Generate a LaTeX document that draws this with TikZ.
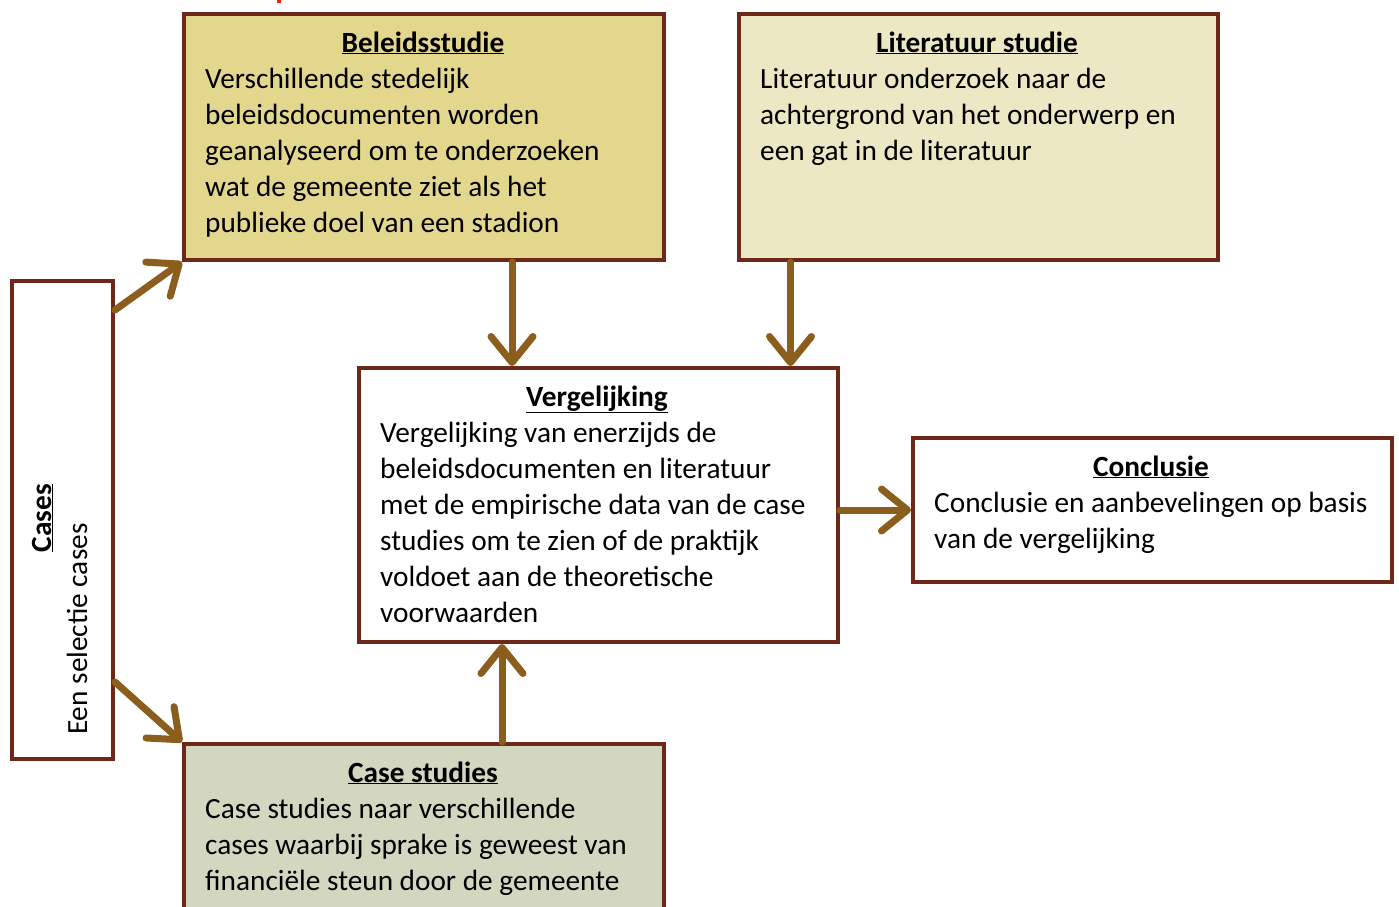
\documentclass[tikz,border=0pt]{standalone}
\usepackage{fontspec}
\setmainfont{Carlito}
\usetikzlibrary{arrows.meta,calc}
\definecolor{bord}{RGB}{110,40,25}
\definecolor{arrc}{RGB}{139,94,30}
\definecolor{fillA}{RGB}{227,215,142}
\definecolor{fillB}{RGB}{237,232,196}
\definecolor{fillC}{RGB}{211,215,192}
\begin{document}
\begin{tikzpicture}[x=1pt,y=-1pt,
  box/.style={draw=bord, line width=4pt, rectangle, inner sep=0pt, anchor=north west},
  arr/.style={draw=arrc, line width=7pt, line cap=round, -{Straight Barb[length=26pt,width=42pt,round]}},
  ttl/.style={font=\fontsize{29.3}{36}\selectfont\bfseries, inner sep=0pt, anchor=base},
  body/.style={font=\fontsize{29.3}{36}\selectfont, inner sep=0pt, anchor=north west, align=left}]
\clip (0,0) rectangle (1399,906);
\fill[white] (0,0) rectangle (1399,906);
\fill[red!75!orange] (277,0) rectangle (281,2.5);
% boxes
\node[box, fill=fillA, minimum width=480pt, minimum height=246pt] (bel) at (182,12) {};
\node[box, fill=fillB, minimum width=479pt, minimum height=246pt] (lit) at (737,12) {};
\node[box, fill=white, minimum width=101pt, minimum height=478pt] (cases) at (10,279) {};
\node[box, fill=white, minimum width=479pt, minimum height=274pt] (verg) at (357,366) {};
\node[box, fill=white, minimum width=479pt, minimum height=144pt] (concl) at (911,436) {};
\node[box, fill=fillC, minimum width=480pt, minimum height=220pt] (cs) at (182,742) {};
% texts
\node[ttl] (belT) at (423,52) {\underline{Beleidsstudie}};
\node[body] (belB) at (205,63) {\strut Verschillende stedelijk\\beleidsdocumenten worden\\geanalyseerd om te onderzoeken\\wat de gemeente ziet als het\\publieke doel van een stadion};
\node[ttl] (litT) at (977,52) {\underline{Literatuur studie}};
\node[body] (litB) at (760,63) {\strut Literatuur onderzoek naar de\\achtergrond van het onderwerp en\\een gat in de literatuur};
\node[ttl] (vergT) at (597,406) {\underline{Vergelijking}};
\node[body] (vergB) at (380,417) {\strut Vergelijking van enerzijds de\\beleidsdocumenten en literatuur\\met de empirische data van de case\\studies om te zien of de praktijk\\voldoet aan de theoretische\\voorwaarden};
\node[ttl] (conclT) at (1151,476) {\underline{Conclusie}};
\node[body] (conclB) at (934,487) {\strut Conclusie en aanbevelingen op basis\\van de vergelijking};
\node[ttl] (csT) at (423,782) {\underline{Case studies}};
\node[body] (csB) at (205,793) {\strut Case studies naar verschillende\\cases waarbij sprake is geweest van\\financiële steun door de gemeente};
\node[ttl, rotate=90] (casesT) at (51,518) {\underline{Cases}};
\node[font=\fontsize{29.3}{36}\selectfont, inner sep=0pt, rotate=90, anchor=base west] (casesB) at (87,735) {Een selectie cases};
% arrows
\draw[arr] ([yshift=-31pt]cases.north east) -- (bel.south west);
\draw[arr] ([yshift=79pt]cases.south east) -- (cs.north west);
\draw[arr] ([xshift=88pt]bel.south) -- ([xshift=88pt]bel.south |- verg.north);
\draw[arr] ([xshift=-188pt]lit.south) -- ([xshift=-188pt]lit.south |- verg.north);
\draw[arr] (verg.east |- concl.west) -- (concl.west);
\draw[arr] ([xshift=78pt]cs.north) -- ([xshift=78pt]cs.north |- verg.south);
\end{tikzpicture}
\end{document}
